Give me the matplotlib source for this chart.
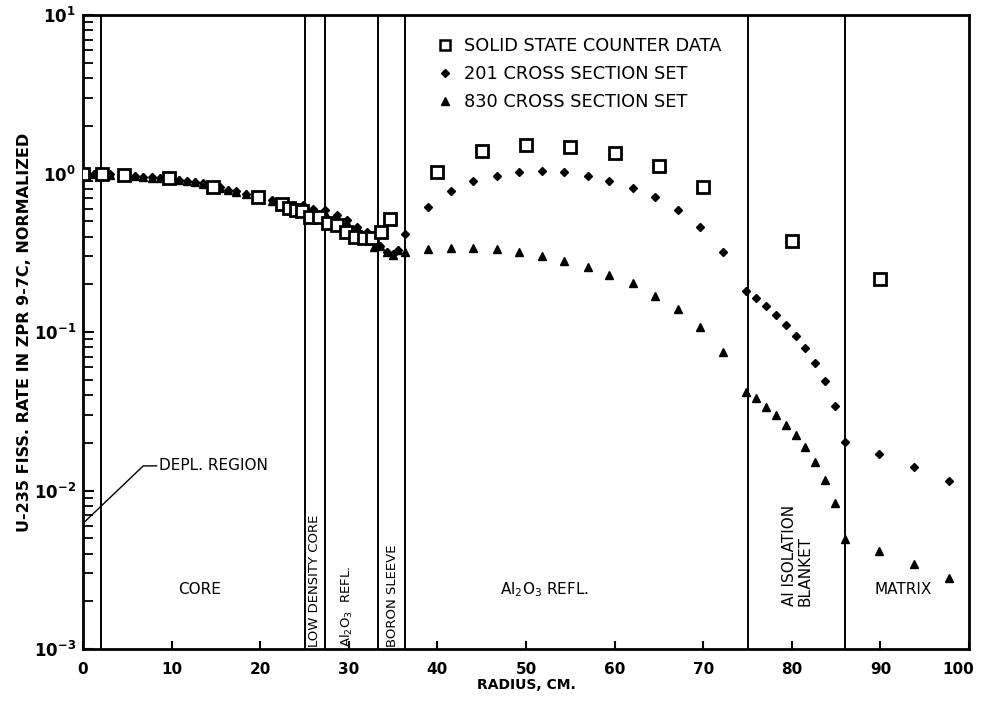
import math
import matplotlib
matplotlib.use("Agg")
import matplotlib.pyplot as plt
from matplotlib.lines import Line2D
from matplotlib.ticker import FixedLocator, FuncFormatter, LogLocator
from matplotlib.transforms import ScaledTranslation

# ---------------- data ----------------
r_ssc = [0, 2.1, 4.6, 9.7, 14.7, 19.7, 22.5, 23.3, 24.0, 24.7, 25.6, 26.6, 27.7,
         28.7, 29.7, 30.7, 31.7, 32.6, 33.6, 34.6,
         40, 45, 50, 55, 60, 65, 70, 80, 90]
v_ssc = [1.0, 1.0, 0.98, 0.94, 0.82, 0.71, 0.64, 0.61, 0.59, 0.58, 0.53, 0.53, 0.49,
         0.47, 0.43, 0.40, 0.39, 0.39, 0.43, 0.52,
         1.02, 1.39, 1.51, 1.47, 1.35, 1.11, 0.82, 0.375, 0.216]

r_201 = [0, 1.2, 2.1, 3.0, 4.5, 5.9, 6.8, 7.8, 8.7, 9.6, 10.8, 11.7, 12.6, 13.6,
         14.6, 15.5, 16.4, 17.3, 18.4, 19.7, 21.3, 22.2, 23.0, 23.8, 24.8, 26.0,
         27.3, 28.7, 29.8, 30.9, 32.0, 32.7, 33.5, 34.3, 35.0, 35.6, 36.3,
         38.9, 41.5, 44.0, 46.7, 49.2, 51.8, 54.3, 57.0, 59.4, 62.1, 64.6, 67.2,
         69.6, 72.2,
         74.8, 76.0, 77.1, 78.2, 79.3, 80.5, 81.5, 82.6, 83.7, 84.9, 86.0,
         89.8, 93.8, 97.7]
v_201 = [1.0, 0.99, 0.99, 0.99, 0.98, 0.96, 0.95, 0.95, 0.94, 0.93, 0.91, 0.90,
         0.89, 0.87, 0.84, 0.82, 0.79, 0.77, 0.74, 0.71, 0.68, 0.65, 0.63, 0.61,
         0.63, 0.60, 0.59, 0.55, 0.51, 0.46, 0.43, 0.41, 0.35, 0.32, 0.31, 0.33,
         0.415,
         0.615, 0.776, 0.897, 0.964, 1.02, 1.04, 1.02, 0.964, 0.897, 0.81, 0.711,
         0.589, 0.46, 0.32,
         0.181, 0.164, 0.146, 0.128, 0.111, 0.094, 0.079, 0.064, 0.049, 0.034,
         0.0202, 0.017, 0.0141, 0.0115]

r_830 = [0, 1.2, 2.1, 3.0, 4.5, 5.9, 6.8, 7.8, 8.7, 9.6, 10.8, 11.7, 12.6, 13.6,
         14.6, 15.5, 16.4, 17.3, 18.4, 19.7, 21.3, 22.2, 23.0, 23.8, 24.8, 26.0,
         27.3, 28.7, 29.8, 30.9, 32.0, 32.8, 33.5, 34.3, 35.0, 35.6, 36.3,
         38.9, 41.5, 44.0, 46.7, 49.2, 51.8, 54.3, 57.0, 59.4, 62.1, 64.6, 67.2,
         69.6, 72.2,
         74.8, 76.0, 77.1, 78.2, 79.3, 80.5, 81.5, 82.6, 83.7, 84.9, 86.0,
         89.8, 93.8, 97.7]
v_830 = [1.0, 0.99, 0.99, 0.98, 0.98, 0.96, 0.95, 0.94, 0.94, 0.93, 0.91, 0.90,
         0.88, 0.86, 0.84, 0.81, 0.79, 0.76, 0.74, 0.71, 0.67, 0.64, 0.62, 0.60,
         0.60, 0.58, 0.56, 0.53, 0.49, 0.45, 0.42, 0.345, 0.35, 0.32, 0.306, 0.33,
         0.32,
         0.334, 0.339, 0.339, 0.334, 0.32, 0.302, 0.28, 0.257, 0.229, 0.204, 0.169,
         0.14, 0.108, 0.075,
         0.0418, 0.0384, 0.0336, 0.0299, 0.0259, 0.0224, 0.0188, 0.0151, 0.01165,
         0.00834, 0.00494, 0.00415, 0.00344, 0.0028]

boundaries = [2, 25, 27.3, 33.3, 36.3, 75, 86]
x_ticks = [0, 10, 20, 30, 40, 50, 60, 70, 80, 90, 100]
legend_labels = ["SOLID STATE COUNTER DATA", "201 CROSS SECTION SET",
                 "830 CROSS SECTION SET"]

# ---------------- figure ----------------
fig = plt.figure(figsize=(9.81, 7.04), dpi=100)
ax = fig.add_axes([0.0846, 0.0781, 0.9032, 0.9006])
ax.set_yscale("log")
ax.set_xlim(0, 100)
ax.set_ylim(1e-3, 1e1)

for b in boundaries:
    ax.axvline(b, color="black", lw=1.4, zorder=1)

ax.plot(r_201, v_201, linestyle="none", marker="D", ms=4.2, color="black", zorder=3)
ax.plot(r_830, v_830, linestyle="none", marker="^", ms=5.5, color="black", zorder=3)
ax.plot(r_ssc, v_ssc, linestyle="none", marker="s", ms=8.5, mfc="white",
        mec="black", mew=2.0, zorder=4)

for s in ax.spines.values():
    s.set_linewidth(2.0)

ax.xaxis.set_major_locator(FixedLocator(x_ticks))
ax.tick_params(axis="x", which="major", direction="in", length=6, width=1.5,
               top=False, labelsize=11, pad=9)
ax.tick_params(axis="y", which="major", direction="in", length=8, width=1.5,
               right=False, labelsize=12, pad=5)
ax.yaxis.set_minor_locator(LogLocator(base=10, subs=range(2, 10)))
ax.tick_params(axis="y", which="minor", direction="in", length=7, width=1.3,
               right=False)
ax.yaxis.set_major_formatter(FuncFormatter(
    lambda v, p: r"$\mathbf{10^{%d}}$" % round(math.log10(v))))
xlabs = ax.get_xticklabels()
for lab in xlabs:
    lab.set_fontweight("bold")
xlabs[-1].set_transform(xlabs[-1].get_transform() +
                        ScaledTranslation(-8 / 72, 0, fig.dpi_scale_trans))

ax.set_xlabel("RADIUS, CM.", fontsize=10, fontweight="bold", labelpad=1)
ax.set_ylabel("U-235 FISS. RATE IN ZPR 9-7C, NORMALIZED", fontsize=11.5,
              fontweight="bold", labelpad=1)

# legend
handles = [
    Line2D([], [], linestyle="none", marker="s", ms=7, mfc="white", mec="black", mew=1.8),
    Line2D([], [], linestyle="none", marker="D", ms=4, color="black"),
    Line2D([], [], linestyle="none", marker="^", ms=6, color="black"),
]
ax.legend(handles, legend_labels, loc="upper left", bbox_to_anchor=(0.38, 0.99),
          frameon=False, fontsize=12.8, handlelength=1.0, handletextpad=0.6,
          labelspacing=0.55)

# region labels
tk = dict(fontsize=11, color="black", ha="center", va="center")
ax.text(13.2, 0.00236, "CORE", **tk)
ax.text(52.1, 0.00236, r"Al$_2$O$_3$ REFL.", **tk)
ax.text(92.6, 0.00236, "MATRIX", **tk)
rk = dict(fontsize=9.5, color="black", ha="center", va="bottom", rotation=90)
ax.text(26.15, 1.03e-3, "LOW DENSITY CORE", **rk)
ax.text(29.8, 1.03e-3, r"Al$_2$O$_3$  REFL.", **rk)
ax.text(34.9, 1.03e-3, "BORON SLEEVE", **rk)
ax.text(80.6, 0.0039, "Al ISOLATION\nBLANKET", rotation=90, multialignment="left",
        linespacing=1.0, fontsize=11, ha="center", va="center")

# depleted region leader
ax.plot([0, 6.8, 8.3], [0.0062, 0.0143, 0.0143], color="black", lw=1.0,
        clip_on=False)
ax.text(8.6, 0.0143, "DEPL. REGION", fontsize=11, ha="left", va="center")

fig.savefig("out.png", dpi=100)
